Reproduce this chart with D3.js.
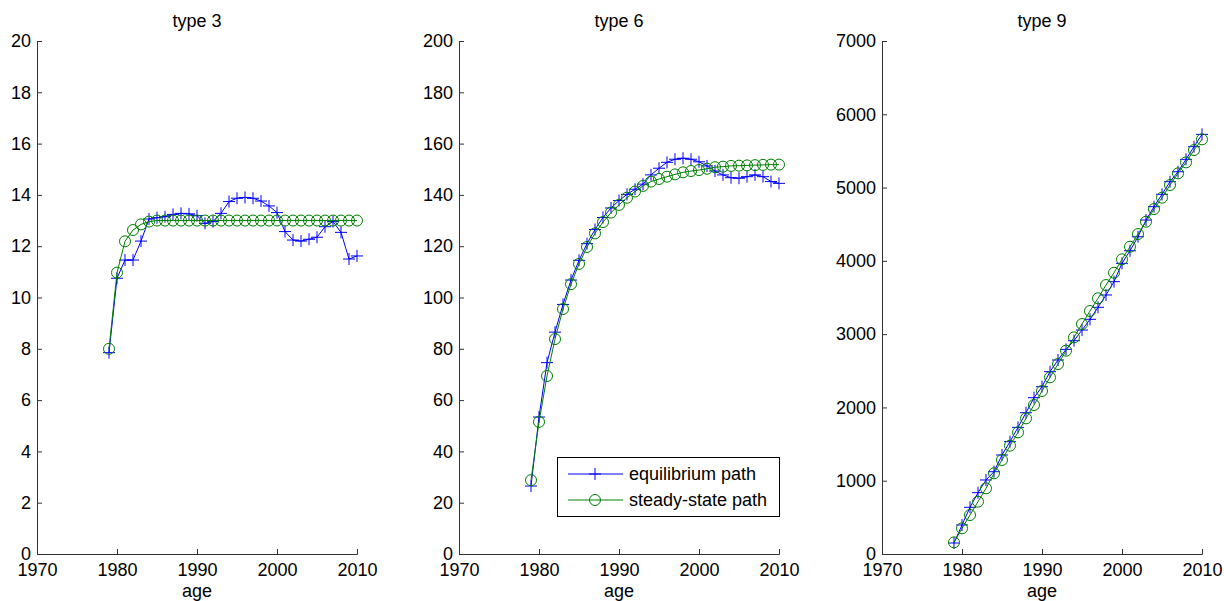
<!DOCTYPE html>
<html lang="en">
<head>
<meta charset="UTF-8">
<script src="https://d3js.org/d3.v7.min.js"></script>
<style>
  body { margin: 0; background: #fff; }
  text { font-family: "Liberation Sans", Arial, sans-serif; }
</style>
</head>
<body>
<div id="chart"></div>
<script>
// years on the x axis
var years = [1979, 1980, 1981, 1982, 1983, 1984, 1985, 1986, 1987, 1988, 1989,
             1990, 1991, 1992, 1993, 1994, 1995, 1996, 1997, 1998, 1999,
             2000, 2001, 2002, 2003, 2004, 2005, 2006, 2007, 2008, 2009, 2010];

// type 3
var eq3 = [7.85, 10.75, 11.46, 11.46, 12.2, 13.06, 13.11, 13.15, 13.24, 13.28, 13.26,
           13.19, 12.89, 12.96, 13.28, 13.74, 13.87, 13.9, 13.87, 13.76, 13.57,
           13.31, 12.57, 12.24, 12.2, 12.27, 12.35, 12.76, 12.96, 12.54, 11.5, 11.62];
var ss3 = [8.0, 10.97, 12.19, 12.63, 12.85, 12.96, 13, 13, 13, 13, 13,
           13, 13, 13, 13, 13, 13, 13, 13, 13, 13,
           13, 13, 13, 13, 13, 13, 13, 13, 13, 13, 13];

// type 6
var eq6 = [26.5, 53.4, 74.6, 86.5, 97.3, 106.8, 114.5, 121, 126.5, 131.2, 134.9,
           137.8, 140.2, 142.2, 144.2, 147.8, 150.4, 152.7, 153.9, 154.3, 153.9,
           152.9, 151.3, 149.3, 147.8, 146.7, 146.5, 147.1, 147.8, 147.1, 145.2, 144.5];
var ss6 = [28.8, 51.5, 69.4, 83.8, 95.5, 105.2, 113.1, 119.7, 125, 129.4, 133.1,
           136.1, 138.9, 141.3, 143.5, 145.2, 146.2, 147.1, 148, 148.8, 149.3,
           149.7, 150.2, 150.8, 151, 151.3, 151.4, 151.5, 151.6, 151.7, 151.8, 151.8];

// type 9
var eq9 = [150, 396, 637, 837, 1010, 1123, 1351, 1533, 1728, 1928, 2133,
           2283, 2488, 2647, 2792, 2911, 3056, 3202, 3366, 3534, 3716,
           3966, 4138, 4329, 4557, 4739, 4908, 5080, 5216, 5385, 5558, 5726];
var ss9 = [159, 350, 532, 714, 896, 1101, 1283, 1478, 1660, 1851, 2033,
           2224, 2411, 2592, 2774, 2956, 3138, 3316, 3489, 3670, 3838,
           4021, 4193, 4366, 4534, 4707, 4862, 5035, 5194, 5344, 5512, 5658];

var xTicks = [1970, 1980, 1990, 2000, 2010];
var panels = [
  { title: "type 3", eq: eq3, ss: ss3, ymax: 20,   yTicks: [0, 2, 4, 6, 8, 10, 12, 14, 16, 18, 20] },
  { title: "type 6", eq: eq6, ss: ss6, ymax: 200,  yTicks: [0, 20, 40, 60, 80, 100, 120, 140, 160, 180, 200] },
  { title: "type 9", eq: eq9, ss: ss9, ymax: 7000, yTicks: [0, 1000, 2000, 3000, 4000, 5000, 6000, 7000] }
];
var legendLabels = ["equilibrium path", "steady-state path"];

var W = 1224, H = 601;
var blue = "#0000ff", green = "#008000", axisColor = "#333";
var fontSize = "18px";
var panelLeft = [37, 459, 882], pw = 320, plotTop = 41, plotBottom = 554;

var svg = d3.select("#chart").append("svg").attr("width", W).attr("height", H);

function drawCross(g, pts, color) {
  g.selectAll("path.cross").data(pts).enter().append("path")
    .attr("class", "cross")
    .attr("d", function (d) { return "M" + (d[0] - 6) + "," + d[1] + "H" + (d[0] + 6) + "M" + d[0] + "," + (d[1] - 6) + "V" + (d[1] + 6); })
    .attr("stroke", color).attr("fill", "none").attr("stroke-width", 1);
}
function drawCircle(g, pts, color) {
  g.selectAll("circle.mk").data(pts).enter().append("circle")
    .attr("class", "mk")
    .attr("cx", function (d) { return d[0]; })
    .attr("cy", function (d) { return d[1]; })
    .attr("r", 5.5)
    .attr("stroke", color).attr("fill", "none").attr("stroke-width", 1);
}

panels.forEach(function (p, i) {
  var x = d3.scaleLinear().domain([1970, 2010]).range([panelLeft[i], panelLeft[i] + pw]);
  var y = d3.scaleLinear().domain([0, p.ymax]).range([plotBottom, plotTop]);
  var g = svg.append("g");

  // axes, ticks pointing inward
  var xa = g.append("g").attr("transform", "translate(0," + plotBottom + ")")
    .call(d3.axisBottom(x).tickValues(xTicks).tickFormat(d3.format("d")).tickSize(-5).tickPadding(9));
  var ya = g.append("g").attr("transform", "translate(" + panelLeft[i] + ",0)")
    .call(d3.axisLeft(y).tickValues(p.yTicks).tickFormat(d3.format("d")).tickSize(-5).tickPadding(6));
  [xa, ya].forEach(function (a) {
    a.selectAll("path,line").attr("stroke", axisColor);
    a.selectAll("text").attr("fill", "#000").style("font-size", fontSize)
      .style("font-family", "'Liberation Sans', Arial, sans-serif");
  });

  // title and x label
  g.append("text").attr("x", panelLeft[i] + pw / 2).attr("y", 27)
    .attr("text-anchor", "middle").style("font-size", fontSize).text(p.title);
  g.append("text").attr("x", panelLeft[i] + pw / 2).attr("y", 597)
    .attr("text-anchor", "middle").style("font-size", fontSize).text("age");

  var line = d3.line().x(function (d) { return d[0]; }).y(function (d) { return d[1]; });
  var eqPts = years.map(function (yr, k) { return [x(yr), y(p.eq[k])]; });
  var ssPts = years.map(function (yr, k) { return [x(yr), y(p.ss[k])]; });

  var gEq = g.append("g");
  gEq.append("path").attr("d", line(eqPts)).attr("stroke", blue).attr("fill", "none").attr("stroke-width", 1);
  drawCross(gEq, eqPts, blue);

  var gSs = g.append("g");
  gSs.append("path").attr("d", line(ssPts)).attr("stroke", green).attr("fill", "none").attr("stroke-width", 1);
  drawCircle(gSs, ssPts, green);

  // legend in the middle panel
  if (i === 1) {
    var lg = g.append("g");
    lg.append("rect").attr("x", 557.5).attr("y", 457.5).attr("width", 222).attr("height", 59)
      .attr("fill", "#fff").attr("stroke", "#000").attr("stroke-width", 1);
    [blue, green].forEach(function (c, k) {
      var ly = 474 + k * 26;
      lg.append("line").attr("x1", 568).attr("x2", 623).attr("y1", ly).attr("y2", ly)
        .attr("stroke", c).attr("stroke-width", 1);
      if (k === 0) drawCross(lg.append("g"), [[595, ly]], c);
      else drawCircle(lg.append("g"), [[595, ly]], c);
      lg.append("text").attr("x", 629).attr("y", ly).attr("dy", "0.35em")
        .style("font-size", fontSize).text(legendLabels[k]);
    });
  }
});
</script>
</body>
</html>
